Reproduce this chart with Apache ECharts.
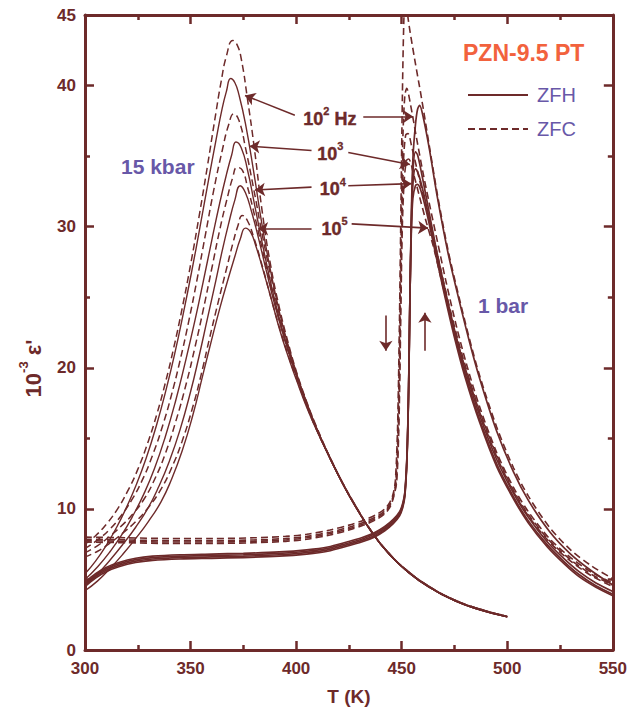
<!DOCTYPE html>
<html>
<head>
<meta charset="utf-8">
<script src="https://cdn.jsdelivr.net/npm/echarts/dist/echarts.min.js"></script>
<style>
  html, body { margin: 0; padding: 0; background: #fff; }
  #chart { width: 630px; height: 712px; }
</style>
</head>
<body>
<div id="chart"></div>
<script>
// T (K) vs 10^-3 eps'

// ---- 15 kbar, ZFC (dashed) ----
var zfc15_1e2 = [[300,7.5],[305,8.1],[310,8.9],[315,9.9],[320,11.2],[325,12.8],[330,14.8],[334,16.7],[338,18.9],[342,21.4],[346,24.2],[350,27.3],[354,30.7],[358,34.3],[361.5,37.6],[364.5,40.3],[367,42.1],[370,43.2],[372,42.9],[374,41.9],[377,39.0],[380,35.8],[384,31.0],[388,27.2],[392,24.3],[396,21.9],[400,19.8],[405,17.6],[410,15.7]];
var zfc15_1e3 = [[300,7.2],[306,7.8],[312,8.6],[317,9.5],[322,10.6],[327,12.0],[332,13.8],[337,16.0],[341,18.1],[345,20.5],[349,23.2],[353,26.2],[357,29.4],[361,32.6],[365,35.4],[368,37.2],[370.5,38.0],[373,37.5],[376,35.6],[380,32.6],[384,29.4],[388,26.5],[392,23.8],[396,21.6],[400,19.6],[405,17.5],[410,15.6]];
var zfc15_1e4 = [[300,6.9],[306,7.4],[312,8.1],[318,8.9],[323,9.7],[328,10.7],[333,12.1],[338,13.9],[343,16.2],[348,18.9],[352,21.4],[356,24.1],[360,27.0],[364,29.9],[367,31.8],[370,33.5],[372,34.2],[374.5,34.0],[377,32.8],[380,31.0],[384,28.4],[388,25.8],[392,23.4],[396,21.3],[400,19.5],[405,17.4],[410,15.6]];
var zfc15_1e5 = [[300,6.6],[306,7.0],[312,7.6],[318,8.3],[324,9.1],[330,10.1],[336,11.4],[341,12.9],[346,14.8],[351,17.2],[355,19.5],[359,22.1],[363,24.6],[367,27.0],[370,28.8],[372.5,30.1],[374.5,30.8],[377,30.4],[380,29.2],[384,27.2],[388,25.0],[392,22.9],[396,21.0],[400,19.3],[405,17.3],[410,15.5]];
var tail15c = [[416,13.65],[422,11.85],[428,10.25],[436,8.35],[444,6.85],[452,5.7],[463,4.5],[475,3.55],[487,2.9],[500,2.38]];

// ---- 15 kbar, ZFH (solid) ----
var zfh15_1e2 = [[300,5.4],[305,6.3],[310,7.4],[315,8.7],[319,9.9],[324,11.6],[329,13.6],[334,16.0],[338.5,18.5],[342.5,21.0],[346.5,23.8],[350.5,26.8],[354.5,30.0],[358.5,33.3],[362,36.1],[365,38.4],[367,39.6],[369,40.5],[371,40.2],[373,39.3],[376,37.3],[380,33.8],[384,30.0],[388,26.8],[392,24.0],[396,21.7],[400,19.7],[405,17.5],[410,15.6]];
var zfh15_1e3 = [[300,5.0],[306,5.9],[312,7.0],[318,8.3],[323,9.6],[328,11.1],[333,12.9],[338,15.1],[343,17.7],[347.5,20.4],[352,23.3],[356,26.1],[360,29.0],[364,31.8],[367,33.7],[369.5,35.1],[371.5,36.0],[374,35.6],[377,34.0],[380,31.8],[384,28.8],[388,26.0],[392,23.5],[396,21.4],[400,19.5],[405,17.4],[410,15.5]];
var zfh15_1e4 = [[300,4.6],[306,5.4],[312,6.4],[318,7.5],[324,8.7],[330,10.1],[335,11.6],[340,13.4],[345,15.6],[350,18.3],[354,20.8],[358,23.5],[362,26.2],[365,28.3],[368,30.2],[371,31.9],[373.5,32.9],[376,32.4],[379,31.0],[382,29.3],[386,26.8],[390,24.4],[394,22.3],[398,20.4],[402,18.7],[406,17.1],[410,15.6]];
var zfh15_1e5 = [[300,4.2],[306,4.9],[312,5.8],[318,6.8],[324,7.9],[330,9.1],[336,10.5],[341,12.1],[346,14.1],[351,16.6],[356,19.6],[360,22.0],[364,24.3],[368,26.4],[371,27.9],[373.5,29.1],[376,29.9],[378.5,29.6],[381,28.6],[384,27.1],[388,25.0],[392,22.8],[396,20.9],[400,19.2],[405,17.2],[410,15.5]];
var tail15h = [[416,13.6],[422,11.8],[428,10.2],[436,8.3],[444,6.8],[452,5.65],[463,4.45],[475,3.5],[487,2.85],[500,2.35]];

// ---- 1 bar, ZFH (solid) ----
var zfh1_1e2 = [[300,4.5],[305,5.1],[310,5.55],[316,5.9],[324,6.2],[332,6.35],[345,6.45],[360,6.5],[375,6.55],[392,6.65],[405,6.8],[415,7.0],[424,7.35],[431,7.65],[437,8.0],[442,8.45],[446,8.95],[449,9.5],[450.5,10.1],[451.5,10.9],[452.5,13.5],[453.3,18.5],[453.9,24.9],[454.6,31.0],[455.3,34.8],[456.5,37.2],[457.5,38.3],[458.5,38.6],[460,37.9],[463,35.6],[467,32.0],[472,28.1],[477,24.9],[482,21.9],[487,19.2],[495,15.5],[503,12.6],[510,10.6],[520,8.4],[530,6.8],[540,5.6],[550,4.6]];
var zfh1_1e3 = [[300,4.6],[305,5.2],[310,5.65],[316,6.0],[324,6.3],[332,6.45],[345,6.55],[360,6.6],[375,6.65],[392,6.75],[405,6.9],[415,7.1],[424,7.45],[431,7.75],[437,8.1],[442,8.55],[446,9.05],[449,9.6],[450.5,10.2],[451.5,11.0],[452.5,13.6],[453.3,18.6],[453.9,25.0],[454.6,30.5],[455.3,33.8],[456.5,35.3],[457.5,35.1],[459,34.1],[462,31.8],[466,28.7],[470,25.9],[475,22.7],[480,19.9],[487,16.6],[495,13.5],[503,11.1],[510,9.4],[519,7.65],[527,6.45],[534,5.55],[542,4.75],[550,4.15]];
var zfh1_1e4 = [[300,4.7],[305,5.3],[310,5.75],[316,6.1],[324,6.4],[332,6.55],[345,6.65],[360,6.7],[375,6.75],[392,6.85],[405,7.0],[415,7.2],[424,7.55],[431,7.85],[437,8.2],[442,8.65],[446,9.15],[449,9.7],[450.5,10.3],[451.5,11.1],[452.5,13.7],[453.3,18.7],[453.9,25.0],[454.6,30.2],[455.3,33.0],[456.5,34.1],[457.5,33.9],[459,33.2],[462,31.3],[466,28.4],[470,25.6],[475,22.4],[480,19.6],[487,16.3],[495,13.2],[503,10.85],[510,9.15],[519,7.45],[527,6.25],[534,5.35],[542,4.55],[550,3.95]];
var zfh1_1e5 = [[300,4.8],[305,5.4],[310,5.85],[316,6.2],[324,6.5],[332,6.65],[345,6.75],[360,6.8],[375,6.85],[392,6.95],[405,7.1],[415,7.3],[424,7.65],[431,7.95],[437,8.3],[442,8.75],[446,9.25],[449,9.8],[450.5,10.4],[451.5,11.2],[452.5,13.8],[453.3,18.8],[453.9,25.0],[454.6,29.8],[455.3,32.0],[456.5,32.9],[457.5,33.0],[459,32.6],[462,30.9],[466,28.1],[470,25.35],[475,22.15],[480,19.35],[487,16.1],[495,13.0],[503,10.7],[510,9.0],[519,7.3],[527,6.1],[534,5.2],[542,4.45],[550,3.85]];

// ---- 1 bar, ZFC (dashed) ----
var zfc1_1e2 = [[300,8.0],[320,7.95],[340,7.9],[360,7.9],[380,7.95],[395,8.05],[405,8.2],[416,8.5],[425,8.85],[432,9.2],[438,9.6],[442,10.0],[444.5,10.5],[446,11.1],[447,12.0],[448,15.5],[448.6,20],[449.1,25],[449.7,32],[450.3,39],[451,44.5],[451.8,47],[453,44.8],[456,42.0],[459.4,39.1],[463,35.8],[467,32.2],[472,28.3],[477,25.1],[482,22.1],[487,19.4],[495,15.8],[503,12.9],[510,10.9],[520,8.7],[530,7.1],[540,5.95],[550,5.05]];
var zfc1_1e3 = [[300,7.85],[320,7.8],[340,7.75],[360,7.75],[380,7.8],[395,7.9],[405,8.05],[416,8.35],[425,8.7],[432,9.05],[438,9.45],[442,9.85],[444.5,10.35],[446,10.95],[447.2,11.9],[448.2,15.5],[448.8,20],[449.3,25],[449.9,31],[450.6,36.5],[451.5,39.3],[452.4,39.8],[454,38.8],[457,36.3],[460,33.9],[463,31.7],[467,28.9],[471,26.1],[476,22.9],[481,20.1],[487,17.2],[495,14.0],[503,11.5],[510,9.8],[520,7.9],[530,6.55],[540,5.5],[550,4.75]];
var zfc1_1e4 = [[300,7.75],[320,7.7],[340,7.65],[360,7.65],[380,7.7],[395,7.8],[405,7.95],[416,8.25],[425,8.6],[432,8.95],[438,9.35],[442,9.75],[444.5,10.25],[446,10.85],[447.4,11.9],[448.4,15.5],[449,20],[449.5,25],[450.1,30.5],[450.9,34.8],[451.9,36.5],[452.9,36.6],[455,35.5],[458,33.6],[461,31.7],[464,29.9],[468,27.3],[472,24.7],[477,21.8],[482,19.2],[487,16.9],[495,13.8],[503,11.3],[510,9.6],[520,7.75],[530,6.4],[540,5.35],[550,4.6]];
var zfc1_1e5 = [[300,7.65],[320,7.6],[340,7.55],[360,7.55],[380,7.6],[395,7.7],[405,7.85],[416,8.15],[425,8.5],[432,8.85],[438,9.25],[442,9.65],[444.5,10.15],[446,10.75],[447.6,11.9],[448.6,15.5],[449.2,20],[449.7,25],[450.3,30],[451.2,33.3],[452.3,34.7],[453.3,34.8],[455.5,33.8],[458.5,32.1],[461.5,30.4],[465,28.6],[469,26.1],[473,23.7],[478,21.0],[483,18.6],[488,16.4],[495,13.7],[503,11.2],[510,9.5],[520,7.65],[530,6.3],[540,5.25],[550,4.5]];

// ---- frequency labels and their arrows (data coords) ----
var freqExp = ['2', '3', '4', '5'];
var freqUnit = [' Hz', '', '', ''];
var freqPos = [[416.0,37.8],[416.2,35.3],[417.4,32.8],[418.2,30.0]];
var arrowsLeft = [[[399.4,37.9],[375.8,39.3]],[[407.3,35.4],[378.0,35.7]],[[407.3,32.8],[380.5,32.6]],[[407.3,29.85],[382.0,29.85]]];
var arrowsRight = [[[431.8,37.8],[455.4,37.8]],[[424.7,35.25],[453.9,34.4]],[[424.7,32.9],[454.6,33.05]],[[426.3,30.2],[462.5,29.9]]];
var arrowCool = [[442.5,23.7],[442.5,21.2]];
var arrowHeat = [[461.0,21.2],[461.0,23.9]];

var brown = '#6d2a2a';
var purple = '#6858a8';
var orange = '#f2623d';
var font = '"Liberation Sans", Arial, sans-serif';

function curve(name, data, dashed, width, smooth) {
    return {
        name: name,
        type: 'line',
        data: data,
        symbol: 'none',
        smooth: smooth,
        silent: true,
        lineStyle: { color: brown, width: width, type: dashed ? [7, 4] : 'solid' },
        itemStyle: { color: brown }
    };
}

var series = [
    curve('ZFH', zfh15_1e2.concat(tail15h), false, 1.4, 0.5),
    curve('ZFH', zfh15_1e3.concat(tail15h), false, 1.4, 0.5),
    curve('ZFH', zfh15_1e4.concat(tail15h), false, 1.4, 0.5),
    curve('ZFH', zfh15_1e5.concat(tail15h), false, 1.4, 0.5),
    curve('ZFC', zfc15_1e2.concat(tail15c), true, 1.5, 0.5),
    curve('ZFC', zfc15_1e3.concat(tail15c), true, 1.5, 0.5),
    curve('ZFC', zfc15_1e4.concat(tail15c), true, 1.5, 0.5),
    curve('ZFC', zfc15_1e5.concat(tail15c), true, 1.5, 0.5),
    curve('ZFH', zfh1_1e2, false, 1.7, 0.3),
    curve('ZFH', zfh1_1e3, false, 1.7, 0.3),
    curve('ZFH', zfh1_1e4, false, 1.7, 0.3),
    curve('ZFH', zfh1_1e5, false, 1.7, 0.3),
    curve('ZFC', zfc1_1e2, true, 1.6, 0.3),
    curve('ZFC', zfc1_1e3, true, 1.6, 0.3),
    curve('ZFC', zfc1_1e4, true, 1.6, 0.3),
    curve('ZFC', zfc1_1e5, true, 1.6, 0.3)
];

// arrows as mark lines
var arrowData = [];
arrowsLeft.concat(arrowsRight, [arrowCool, arrowHeat]).forEach(function (a) {
    arrowData.push([{ coord: a[0] }, { coord: a[1] }]);
});

var labelRich = {
    n: { fontSize: 18, fontWeight: 'bold', color: brown, fontFamily: font, lineHeight: 22, verticalAlign: 'bottom',
         textBorderColor: brown, textBorderWidth: 0.4 },
    s: { fontSize: 11, fontWeight: 'bold', color: brown, fontFamily: font, lineHeight: 11, verticalAlign: 'top',
         textBorderColor: brown, textBorderWidth: 0.3 }
};

series.push({
    name: 'labels',
    type: 'scatter',
    symbolSize: 0,
    silent: true,
    itemStyle: { color: brown, opacity: 1 },
    data: freqPos.map(function (p, i) {
        return {
            value: p,
            label: { formatter: '{n|10}{s|' + freqExp[i] + '}{n|' + freqUnit[i] + '}' }
        };
    }),
    label: {
        show: true,
        position: [0, 0],
        align: 'center',
        verticalAlign: 'middle',
        color: brown,
        textBorderColor: brown,
        textBorderWidth: 0,
        fontSize: 18,
        fontWeight: 'bold',
        fontFamily: font,
        rich: labelRich
    },
    markLine: {
        silent: true,
        symbol: ['none', 'arrow'],
        symbolSize: 10,
        label: { show: false },
        lineStyle: { color: brown, width: 1.6, type: 'solid', opacity: 1 },
        data: arrowData
    }
});

var axisCommon = {
    axisLine: { show: true, onZero: false, lineStyle: { color: brown, width: 3 } },
    axisTick: { show: true, inside: true, length: 9, lineStyle: { color: brown, width: 2.5 } },
    minorTick: { show: true, splitNumber: 2, length: 5, lineStyle: { color: brown, width: 2.5 } },
    splitLine: { show: false }
};

function axis(extra) {
    return Object.assign({}, JSON.parse(JSON.stringify(axisCommon)), extra);
}

var chart = echarts.init(document.getElementById('chart'), null, { renderer: 'svg' });

chart.setOption({
    animation: false,
    backgroundColor: '#fff',
    grid: { left: 85, right: 17, top: 15, bottom: 62 },
    legend: {
        data: ['ZFH', 'ZFC'],
        orient: 'vertical',
        left: 462,
        top: 80,
        itemWidth: 60,
        itemHeight: 14,
        itemGap: 14,
        selectedMode: false,
        itemStyle: { opacity: 0, borderWidth: 0 },
        textStyle: { color: purple, fontSize: 20, fontFamily: font, padding: [0, 0, 0, 4] }
    },
    xAxis: [
        axis({
            type: 'value', min: 300, max: 550, interval: 50,
            name: 'T (K)', nameLocation: 'middle', nameGap: 37,
            nameTextStyle: { color: brown, fontSize: 19, fontWeight: 'bold', fontFamily: font },
            axisLabel: { color: brown, fontSize: 17, fontWeight: 'bold', fontFamily: font, margin: 10 }
        }),
        axis({ type: 'value', position: 'top', min: 300, max: 550, interval: 50, axisLabel: { show: false } })
    ],
    yAxis: [
        axis({
            type: 'value', min: 0, max: 45, interval: 10,
            name: "{n|10}{s|-3}{n| ε'}", nameLocation: 'middle', nameGap: 41,
            nameTextStyle: {
                padding: [0, 72, 0, 0],
                rich: {
                    n: { fontSize: 22, fontWeight: 'bold', color: brown, fontFamily: font, lineHeight: 27, verticalAlign: 'bottom' },
                    s: { fontSize: 13, fontWeight: 'bold', color: brown, fontFamily: font, lineHeight: 13, verticalAlign: 'top' }
                }
            },
            axisLabel: { color: brown, fontSize: 17, fontWeight: 'bold', fontFamily: font, margin: 9 }
        }),
        axis({ type: 'value', position: 'right', min: 0, max: 45, interval: 10, axisLabel: { show: false } })
    ],
    graphic: [
        { type: 'text', silent: true, style: { text: 'PZN-9.5 PT', x: 463, y: 53, verticalAlign: 'middle', font: 'bold 23px ' + font, fill: orange } },
        { type: 'text', silent: true, style: { text: '15 kbar', x: 121, y: 166, verticalAlign: 'middle', font: 'bold 21px ' + font, fill: purple } },
        { type: 'text', silent: true, style: { text: '1 bar', x: 478, y: 305, verticalAlign: 'middle', font: 'bold 21px ' + font, fill: purple } }
    ],
    series: series
});
</script>
</body>
</html>
